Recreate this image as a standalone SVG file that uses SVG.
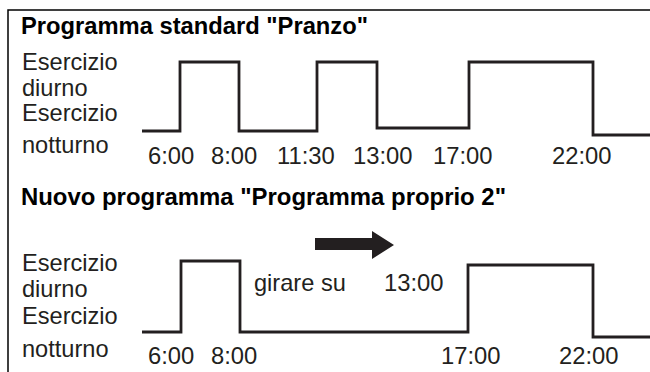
<svg xmlns="http://www.w3.org/2000/svg" width="650" height="372" viewBox="0 0 650 372">
<style>
text{font-family:"Liberation Sans",Arial,Helvetica,sans-serif;fill:#231f20}
.t{font-weight:bold;font-size:23.5px;fill:#000}
.l{font-size:23.6px}
.n{font-size:23.8px}
.w{fill:none;stroke:#231f20;stroke-width:2.8;stroke-linejoin:miter}
</style>
<rect width="650" height="372" fill="#fff"/>
<path d="M8,372 V10 H650" fill="none" stroke="#000" stroke-width="1.5"/>
<g id="standard">
<text class="t" x="21" y="34" textLength="347" lengthAdjust="spacingAndGlyphs">Programma standard "Pranzo"</text>
<g id="labels1">
<text class="l" x="22" y="70">Esercizio</text>
<text class="l" x="22" y="96">diurno</text>
<text class="l" x="22" y="121">Esercizio</text>
<text class="l" x="22" y="153">notturno</text>
</g>
<g id="times1">
<text class="n" x="148" y="164">6:00</text>
<text class="n" x="211" y="164">8:00</text>
<text class="n" x="277" y="164">11:30</text>
<text class="n" x="353" y="164">13:00</text>
<text class="n" x="433" y="164">17:00</text>
<text class="n" x="552" y="164">22:00</text>
</g>
</g>
<g id="nuovo">
<text class="t" x="21" y="205" textLength="485" lengthAdjust="spacingAndGlyphs">Nuovo programma "Programma proprio 2"</text>
<g id="labels2">
<text class="l" x="22" y="271">Esercizio</text>
<text class="l" x="22" y="297">diurno</text>
<text class="l" x="22" y="324">Esercizio</text>
<text class="l" x="22" y="357">notturno</text>
</g>
<g id="times2">
<text class="n" x="148" y="364">6:00</text>
<text class="n" x="211" y="364">8:00</text>
<text class="n" x="441" y="364">17:00</text>
<text class="n" x="559" y="364">22:00</text>
</g>
<text class="l" x="254" y="291">girare su</text>
<text class="n" x="384" y="291">13:00</text>
</g>
<g id="connectors">
<path id="wave1" class="w" d="M142,131 H180 V62 H239 V131 H317 V62 H377 V128 H469 V62 H593 V135 H650"/>
<path id="wave2" class="w" d="M142,332 H181 V261 H240 V332 H468 V265 H593 V337 H650"/>
<polygon id="arrow" points="315,238 372,238 372,231 394,245 372,259 372,250 315,250" fill="#231f20"/>
</g>
</svg>
